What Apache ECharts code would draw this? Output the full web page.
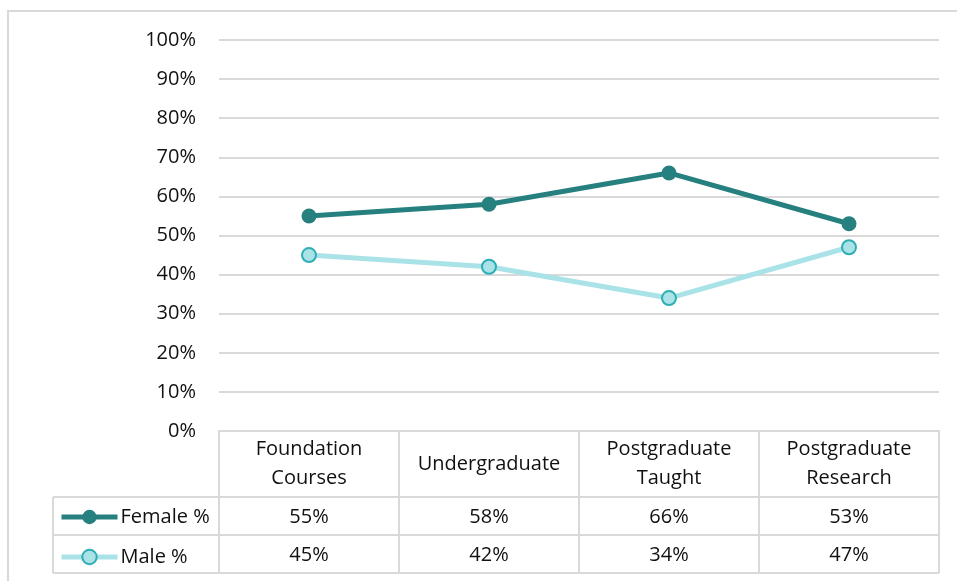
<!DOCTYPE html>
<html>
<head>
<meta charset="utf-8">
<script src="https://cdn.jsdelivr.net/npm/echarts@6/dist/echarts.min.js"></script>
<style>
  html, body { margin: 0; padding: 0; background: #fff; }
  #chart { width: 957px; height: 581px; }
</style>
</head>
<body>
<div id="chart"></div>
<script>
// chart data
var categories = ['Foundation\nCourses', 'Undergraduate', 'Postgraduate\nTaught', 'Postgraduate\nResearch']
var femaleValues = [55, 58, 66, 53]
var maleValues = [45, 42, 34, 47]
var yTicks = [0, 10, 20, 30, 40, 50, 60, 70, 80, 90, 100]

var FONT = 'Open Sans'
var FS = 20
var GRID_COLOR = '#d9d9d9'
var TEXT_COLOR = '#111'

// table layout (grid left/right, row lines)
var gridLeft = 219, gridRight = 939
var tableLeft = 53
var rowLines = [497, 535, 573]

var chart = echarts.init(document.getElementById('chart'))

// header + values of one column, as rich text
function columnLabel(value, idx) {
  var parts = value.split('\n')
  var head = parts.length > 1
    ? '{h|' + parts[0] + '}\n{h|' + parts[1] + '}'
    : '{h1|' + parts[0] + '}'
  return head + '\n{f|' + femaleValues[idx] + '%}\n{m|' + maleValues[idx] + '%}'
}

var graphics = [
  // outer chart frame (only left and top visible)
  { type: 'rect', shape: { x: 8, y: 11, width: 1200, height: 1200 },
    style: { fill: 'none', stroke: GRID_COLOR, lineWidth: 2 }, silent: true },
  // legend column left border
  { type: 'line', shape: { x1: tableLeft, y1: rowLines[0], x2: tableLeft, y2: rowLines[2] },
    style: { stroke: GRID_COLOR, lineWidth: 2 }, silent: true }
]
rowLines.forEach(function (y) {
  graphics.push({ type: 'line', shape: { x1: tableLeft, y1: y, x2: gridRight, y2: y },
    style: { stroke: GRID_COLOR, lineWidth: 2 }, silent: true })
})

chart.setOption({
  animation: false,
  textStyle: { fontFamily: FONT },
  grid: { left: gridLeft, right: 957 - gridRight, top: 40, bottom: 150 },
  legend: {
    orient: 'vertical',
    left: 59,
    top: 507,
    padding: 0,
    itemWidth: 56,
    itemHeight: 18,
    itemGap: 20,
    lineStyle: { width: 5 },
    textStyle: { fontFamily: FONT, fontSize: FS, lineHeight: 18, color: TEXT_COLOR, padding: [0, 0, 0, -2] },
    data: ['Female %', 'Male %']
  },
  xAxis: {
    type: 'category',
    data: categories,
    boundaryGap: true,
    axisLine: { show: true, lineStyle: { color: GRID_COLOR, width: 2 } },
    axisTick: { show: true, interval: 0, length: 142, lineStyle: { color: GRID_COLOR, width: 2 } },
    axisLabel: {
      interval: 0,
      margin: 4,
      formatter: columnLabel,
      color: TEXT_COLOR,
      fontFamily: FONT,
      fontSize: FS,
      rich: {
        h: { fontFamily: FONT, fontSize: FS, lineHeight: 29, color: TEXT_COLOR },
        h1: { fontFamily: FONT, fontSize: FS, lineHeight: 58, color: TEXT_COLOR },
        f: { fontFamily: FONT, fontSize: FS, lineHeight: 48, color: TEXT_COLOR },
        m: { fontFamily: FONT, fontSize: FS, lineHeight: 28, color: TEXT_COLOR }
      }
    }
  },
  yAxis: {
    type: 'value',
    min: yTicks[0],
    max: yTicks[yTicks.length - 1],
    interval: yTicks[1] - yTicks[0],
    axisLine: { show: false },
    axisTick: { show: false },
    splitLine: { lineStyle: { color: GRID_COLOR, width: 2 } },
    axisLabel: { formatter: '{value}%', margin: 23, fontFamily: FONT, fontSize: FS, color: TEXT_COLOR }
  },
  series: [
    {
      name: 'Female %',
      type: 'line',
      data: femaleValues,
      symbol: 'circle',
      symbolSize: 15,
      lineStyle: { color: '#26807f', width: 5 },
      itemStyle: { color: '#26807f' }
    },
    {
      name: 'Male %',
      type: 'line',
      data: maleValues,
      symbol: 'circle',
      symbolSize: 14,
      lineStyle: { color: '#a9e3e8', width: 5 },
      itemStyle: { color: '#a9e3e8', borderColor: '#2eaeb4', borderWidth: 2 }
    }
  ],
  graphic: graphics
})
</script>
</body>
</html>
